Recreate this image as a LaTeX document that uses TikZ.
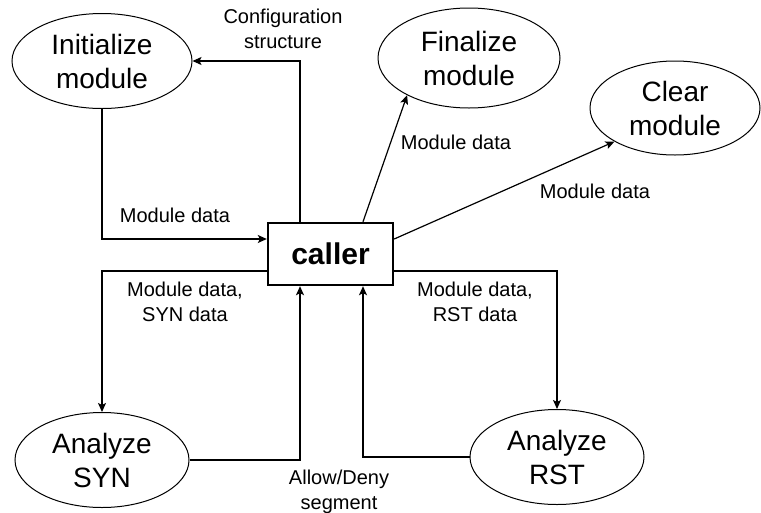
\documentclass[tikz,border=0pt]{standalone}
\usepackage{fontspec}
\setmainfont{Liberation Sans}
\usetikzlibrary{shapes.geometric,arrows.meta}
\tikzset{
  proc/.style={ellipse,draw,line width=1pt,inner sep=0pt,align=center,
    font=\fontsize{28}{34}\selectfont},
  callerbox/.style={rectangle,draw,line width=2.4pt,minimum width=125pt,
    minimum height=62pt,inner sep=0pt,font=\fontsize{30}{36}\selectfont\bfseries},
  lbl/.style={align=center,inner sep=0pt,font=\fontsize{20}{25}\selectfont},
  arr/.style={line width=1.2pt,-{Stealth[length=9pt,width=8pt,inset=2pt]}},
}
\begin{document}
\begin{tikzpicture}[x=1pt,y=-1pt]
\useasboundingbox (0,0) rectangle (761,512);
% process nodes
\node[proc,minimum width=180pt,minimum height=95pt] (init) at (102,61) {Initialize\\module};
\node[proc,minimum width=182pt,minimum height=100pt] (fin) at (469,58) {Finalize\\module};
\node[proc,minimum width=170pt,minimum height=94pt] (clear) at (675,108) {Clear\\module};
\node[proc,minimum width=174pt,minimum height=95pt] (syn) at (102,460) {Analyze\\SYN};
\node[proc,minimum width=174pt,minimum height=95pt] (rst) at (557,457) {Analyze\\RST};
\node[callerbox] (caller) at (330.5,254) {caller};
% connectors
\draw[arr] ([xshift=-30.5pt]caller.north) |- (init.east);
\draw[arr] (init.south) |- ([yshift=15pt]caller.west);
\draw[arr] ([xshift=32.5pt]caller.north) -- (fin.211);
\draw[arr] ([yshift=15pt]caller.east) -- (clear.209);
\draw[arr] ([yshift=-17pt]caller.west) -| (syn.north);
\draw[arr] (syn.east) -| ([xshift=-30.5pt]caller.south);
\draw[arr] (rst.west) -| ([xshift=32.5pt]caller.south);
\draw[arr] ([yshift=-17pt]caller.east) -| (rst.north);
% labels
\node[lbl] (lconf) at (283,29) {Configuration\\structure};
\node[lbl] (linit) at (175,215) {Module data};
\node[lbl] (lfin) at (456,142) {Module data};
\node[lbl] (lclear) at (595,191) {Module data};
\node[lbl] (lsyn) at (185,302) {Module data,\\SYN data};
\node[lbl] (lrst) at (475,302) {Module data,\\RST data};
\node[lbl] (lallow) at (339,492) {Allow/Deny\\segment};
\end{tikzpicture}
\end{document}
